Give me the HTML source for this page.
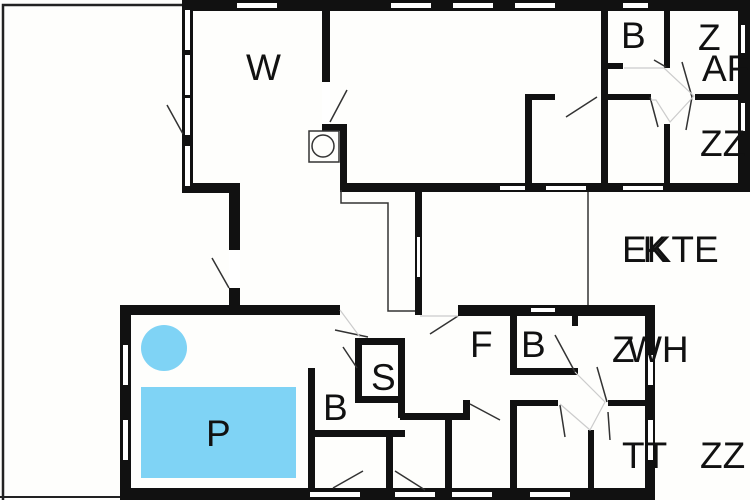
<!DOCTYPE html>
<html><head><style>body{margin:0;background:#fefefc}svg{display:block}text{font-family:"Liberation Sans",sans-serif;font-size:37px;fill:#111}</style></head><body>
<svg width="750" height="500" viewBox="0 0 750 500">
<rect width="750" height="500" fill="#fefefc"/>
<path d="M183,5 H3 V500" fill="none" stroke="#222" stroke-width="2.5"/>
<path d="M0,497 H120" stroke="#222" stroke-width="2"/>
<g fill="#111">
<rect x="182" y="0" width="568" height="11"/>
<rect x="182" y="0" width="11" height="193"/>
<rect x="182" y="183" width="58" height="10"/>
<rect x="229" y="183" width="11" height="127"/>
<rect x="120" y="305" width="220" height="10"/>
<rect x="322" y="8" width="8" height="74"/>
<rect x="322" y="124" width="24" height="7"/>
<rect x="340" y="124" width="7" height="68"/>
<rect x="340" y="183" width="410" height="9"/>
<rect x="525" y="94" width="30" height="6"/>
<rect x="525" y="94" width="7" height="92"/>
<rect x="601" y="8" width="7" height="180"/>
<rect x="601" y="63" width="22" height="6"/>
<rect x="601" y="94" width="50" height="6"/>
<rect x="664" y="8" width="6" height="60"/>
<rect x="664" y="124" width="6" height="62"/>
<rect x="695" y="94" width="45" height="6"/>
<rect x="738" y="0" width="12" height="192"/>
<rect x="415" y="190" width="7" height="125"/>
<rect x="120" y="305" width="11" height="195"/>
<rect x="120" y="488" width="535" height="12"/>
<rect x="458" y="305" width="197" height="11"/>
<rect x="645" y="305" width="10" height="195"/>
<rect x="355" y="338" width="50" height="7"/>
<rect x="355" y="338" width="7" height="64"/>
<rect x="398" y="338" width="7" height="80"/>
<rect x="355" y="396" width="50" height="7"/>
<rect x="308" y="368" width="7" height="132"/>
<rect x="308" y="430" width="97" height="7"/>
<rect x="386" y="436" width="7" height="64"/>
<rect x="400" y="413" width="70" height="7"/>
<rect x="463" y="400" width="7" height="20"/>
<rect x="445" y="413" width="7" height="87"/>
<rect x="510" y="316" width="7" height="59"/>
<rect x="510" y="368" width="68" height="7"/>
<rect x="572" y="316" width="6" height="10"/>
<rect x="510" y="400" width="48" height="6"/>
<rect x="510" y="400" width="7" height="100"/>
<rect x="588" y="430" width="6" height="70"/>
<rect x="608" y="400" width="40" height="6"/>
</g>
<g fill="#fff">
<rect x="237" y="3" width="40" height="5"/><rect x="391" y="3" width="40" height="5"/><rect x="453" y="3" width="40" height="5"/><rect x="515" y="3" width="40" height="5"/><rect x="623" y="3" width="25" height="5"/>
<rect x="185" y="10" width="5" height="40"/><rect x="185" y="55" width="5" height="40"/><rect x="185" y="98" width="5" height="37"/><rect x="185" y="146" width="5" height="40"/>
<rect x="500" y="186" width="25" height="4"/><rect x="546" y="186" width="40" height="4"/><rect x="623" y="186" width="40" height="4"/>
<rect x="741" y="25" width="4" height="28"/><rect x="741" y="103" width="4" height="28"/>
<rect x="417" y="237" width="3" height="40"/>
<rect x="123" y="345" width="5" height="40"/><rect x="123" y="420" width="5" height="40"/>
<rect x="531" y="308" width="24" height="4"/>
<rect x="648" y="355" width="5" height="30"/><rect x="648" y="420" width="5" height="40"/>
<rect x="452" y="492" width="40" height="5"/><rect x="530" y="492" width="40" height="5"/>
<rect x="310" y="492" width="50" height="5"/><rect x="395" y="492" width="40" height="5"/>
<rect x="322" y="82" width="8" height="42"/>
<rect x="229" y="250" width="11" height="38"/>
</g>
<g fill="none" stroke="#333" stroke-width="1.5">
<path d="M341,190 V203 H388 V311 H415"/>
<rect x="309" y="131" width="30" height="31"/>
<circle cx="323" cy="146" r="11"/>
<path d="M588,192 V305"/>
<path d="M167,105 L183,134 M347,90 L330,122 M212,258 L229,288 M566,117 L597,97 M654,60 L666,67 M682,62 L692,97 M692,97 L686,130 M650,97 L658,127 M335,330 L368,337 M343,347 L357,368 M430,334 L458,316 M470,404 L500,420 M555,335 L575,372 M597,367 L607,402 M560,405 L565,437 M608,412 L610,440 M333,488 L363,471 M395,471 L425,490"/>
</g>
<g fill="none" stroke="#ccc" stroke-width="1.2">
<path d="M624,68 H664 L694,96 L670,122 L656,100 H651 M340,310 L360,337 M420,316 H458 M575,372 L605,402 L590,430 L560,404"/>
</g>
<rect x="141" y="387" width="155" height="91" fill="#7fd3f5"/>
<circle cx="164" cy="348" r="23" fill="#7fd3f5"/>
<text x="246" y="80">W</text>
<text x="621" y="48">B</text>
<text x="698" y="50">Z</text>
<text x="702" y="81">AF</text>
<text x="700" y="156">ZZ</text>
<text x="622" y="262">EKTE</text>
<text x="622" y="262">LK</text>
<text x="470" y="357">F</text>
<text x="521" y="357">B</text>
<text x="612" y="362">Z</text>
<text x="627" y="362">WH</text>
<text x="371" y="390">S</text>
<text x="323" y="420">B</text>
<text x="206" y="446">P</text>
<text x="622" y="468">TT</text>
<text x="700" y="468">ZZ</text>
</svg>
</body></html>
